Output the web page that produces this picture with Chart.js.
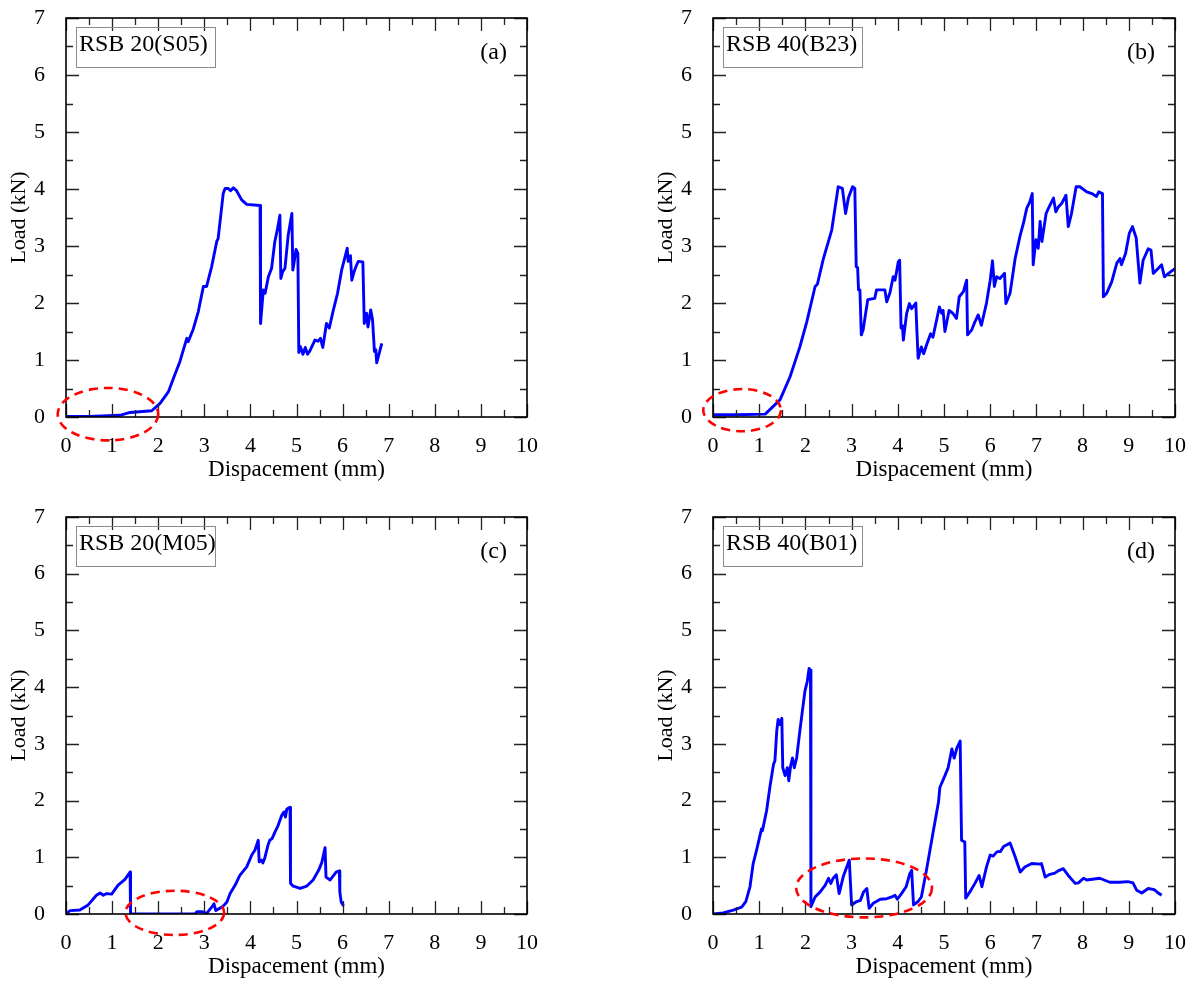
<!DOCTYPE html>
<html>
<head>
<meta charset="utf-8">
<script src="https://cdn.jsdelivr.net/npm/chart.js@4.4.1/dist/chart.umd.min.js"></script>
<style>
  body { margin: 0; background: #fff; width: 1195px; height: 987px; overflow: hidden; position: relative; }
  canvas { position: absolute; }
</style>
</head>
<body>
<canvas id="chartA" width="547" height="490" style="left:0;top:0"></canvas>
<canvas id="chartB" width="548" height="490" style="left:647px;top:0"></canvas>
<canvas id="chartC" width="547" height="490" style="left:0;top:497px"></canvas>
<canvas id="chartD" width="548" height="490" style="left:647px;top:497px"></canvas>
<script>
// tick labels
const xTicks = ["0", "1", "2", "3", "4", "5", "6", "7", "8", "9", "10"];
const yTicks = ["0", "1", "2", "3", "4", "5", "6", "7"];

// (a) RSB 20(S05)
const dispA = [0, 0.5, 1.17, 1.39, 1.86, 2.04, 2.22, 2.36, 2.47, 2.62, 2.65, 2.76, 2.87, 2.98, 3.05, 3.16, 3.27, 3.30, 3.41, 3.45,
  3.52, 3.57, 3.63, 3.70, 3.81, 3.92, 4.21, 4.22, 4.28, 4.32, 4.39, 4.46, 4.53, 4.59, 4.64, 4.66, 4.70, 4.75, 4.82, 4.90,
  4.92, 4.94, 4.99, 5.03, 5.05, 5.08, 5.14, 5.19, 5.24, 5.29, 5.40, 5.47, 5.52, 5.57, 5.65, 5.71, 5.80, 5.89, 5.98, 6.05,
  6.10, 6.12, 6.17, 6.20, 6.25, 6.29, 6.34, 6.44, 6.47, 6.52, 6.55, 6.61, 6.65, 6.69, 6.72, 6.74, 6.85];
const loadA = [0.01, 0.01, 0.03, 0.08, 0.11, 0.24, 0.44, 0.74, 0.97, 1.38, 1.32, 1.54, 1.85, 2.29, 2.29, 2.64, 3.08, 3.13, 3.92, 4.01,
  4.01, 3.97, 4.02, 3.97, 3.81, 3.73, 3.71, 1.64, 2.23, 2.17, 2.46, 2.61, 3.08, 3.31, 3.54, 2.43, 2.55, 2.61, 3.19, 3.57,
  2.58, 2.67, 2.94, 2.87, 1.13, 1.24, 1.10, 1.22, 1.10, 1.16, 1.35, 1.33, 1.38, 1.22, 1.64, 1.56, 1.88, 2.17, 2.58, 2.80,
  2.96, 2.73, 2.83, 2.40, 2.55, 2.64, 2.73, 2.72, 1.64, 1.82, 1.58, 1.88, 1.70, 1.15, 1.18, 0.95, 1.29];

// (b) RSB 40(B23)
const dispB = [0, 0.5, 1.13, 1.45, 1.67, 1.88, 2.03, 2.21, 2.26, 2.39, 2.57, 2.71, 2.80, 2.87, 2.93, 3.02, 3.07, 3.10, 3.13, 3.15,
  3.18, 3.21, 3.25, 3.35, 3.50, 3.54, 3.72, 3.76, 3.83, 3.90, 3.94, 4.01, 4.04, 4.07, 4.10, 4.12, 4.19, 4.25, 4.30, 4.39,
  4.41, 4.44, 4.51, 4.56, 4.62, 4.71, 4.76, 4.90, 4.95, 4.98, 5.02, 5.11, 5.19, 5.27, 5.33, 5.42, 5.49, 5.51, 5.60, 5.67,
  5.74, 5.81, 5.92, 6.00, 6.05, 6.09, 6.14, 6.21, 6.31, 6.34, 6.43, 6.54, 6.65, 6.72, 6.79, 6.86, 6.91, 6.93, 6.99, 7.04,
  7.08, 7.12, 7.21, 7.26, 7.37, 7.42, 7.48, 7.55, 7.64, 7.69, 7.76, 7.86, 7.94, 8.09, 8.20, 8.30, 8.35, 8.43, 8.45, 8.52,
  8.63, 8.74, 8.81, 8.84, 8.93, 9.01, 9.08, 9.16, 9.24, 9.31, 9.42, 9.48, 9.53, 9.64, 9.71, 9.77, 9.86, 9.96, 10.0];
const loadB = [0.04, 0.04, 0.05, 0.30, 0.71, 1.23, 1.67, 2.29, 2.33, 2.78, 3.28, 4.04, 4.01, 3.57, 3.84, 4.04, 4.01, 2.64, 2.62, 2.23,
  2.23, 1.44, 1.53, 2.06, 2.08, 2.23, 2.23, 2.02, 2.18, 2.46, 2.40, 2.72, 2.75, 1.56, 1.60, 1.35, 1.81, 1.99, 1.90, 2.00,
  1.58, 1.03, 1.23, 1.11, 1.26, 1.46, 1.40, 1.93, 1.82, 1.87, 1.50, 1.87, 1.82, 1.73, 2.11, 2.20, 2.40, 1.44, 1.53, 1.67,
  1.79, 1.61, 2.00, 2.40, 2.74, 2.29, 2.46, 2.43, 2.52, 1.99, 2.17, 2.78, 3.19, 3.40, 3.66, 3.78, 3.92, 2.67, 3.11, 2.96,
  3.43, 3.08, 3.57, 3.66, 3.84, 3.60, 3.69, 3.75, 3.89, 3.34, 3.57, 4.04, 4.04, 3.95, 3.92, 3.87, 3.95, 3.92, 2.11, 2.17,
  2.37, 2.70, 2.78, 2.67, 2.87, 3.22, 3.34, 3.14, 2.35, 2.75, 2.95, 2.93, 2.52, 2.61, 2.67, 2.46, 2.52, 2.58, 2.60];

// (c) RSB 20(M05)
const dispC = [0, 0.09, 0.30, 0.48, 0.66, 0.74, 0.81, 0.88, 0.99, 1.13, 1.28, 1.39, 1.40, 2.80, 2.84, 2.95, 3.05, 3.16, 3.21, 3.25,
  3.40, 3.49, 3.56, 3.67, 3.77, 3.92, 4.03, 4.10, 4.17, 4.19, 4.24, 4.27, 4.31, 4.38, 4.42, 4.47, 4.53, 4.60, 4.68, 4.73,
  4.76, 4.79, 4.86, 4.87, 4.93, 5.08, 5.22, 5.36, 5.48, 5.55, 5.62, 5.64, 5.73, 5.86, 5.93, 5.94, 5.97, 6.02];
const loadC = [0.01, 0.06, 0.07, 0.16, 0.33, 0.37, 0.33, 0.36, 0.35, 0.51, 0.61, 0.74, 0.0, 0.0, 0.04, 0.04, 0.01, 0.12, 0.18, 0.06,
  0.13, 0.21, 0.36, 0.51, 0.68, 0.83, 1.04, 1.13, 1.30, 0.92, 0.95, 0.90, 0.98, 1.21, 1.30, 1.33, 1.44, 1.56, 1.74, 1.80,
  1.71, 1.85, 1.88, 0.54, 0.49, 0.45, 0.49, 0.60, 0.77, 0.91, 1.17, 0.65, 0.60, 0.74, 0.76, 0.39, 0.21, 0.14];

// (d) RSB 40(B01)
const dispD = [0, 0.22, 0.44, 0.62, 0.71, 0.80, 0.87, 0.95, 1.05, 1.07, 1.16, 1.23, 1.31, 1.34, 1.38, 1.41, 1.45, 1.49, 1.51, 1.56,
  1.61, 1.64, 1.68, 1.72, 1.76, 1.81, 1.88, 1.99, 2.04, 2.08, 2.11, 2.12, 2.21, 2.32, 2.43, 2.50, 2.55, 2.60, 2.67, 2.73,
  2.82, 2.95, 3.00, 3.11, 3.19, 3.26, 3.33, 3.35, 3.38, 3.47, 3.62, 3.76, 3.87, 3.94, 3.99, 4.08, 4.18, 4.26, 4.30, 4.34,
  4.44, 4.51, 4.62, 4.77, 4.88, 4.91, 5.02, 5.09, 5.17, 5.22, 5.28, 5.35, 5.38, 5.45, 5.47, 5.56, 5.67, 5.76, 5.82, 5.92,
  6.00, 6.06, 6.15, 6.22, 6.29, 6.43, 6.54, 6.65, 6.75, 6.90, 7.08, 7.11, 7.19, 7.29, 7.40, 7.47, 7.58, 7.69, 7.84, 7.91,
  8.02, 8.09, 8.37, 8.59, 8.80, 8.98, 9.09, 9.17, 9.28, 9.42, 9.55, 9.64, 9.71];
const loadD = [0.00, 0.02, 0.07, 0.12, 0.22, 0.48, 0.89, 1.15, 1.50, 1.47, 1.82, 2.23, 2.64, 2.70, 3.23, 3.43, 3.34, 3.45, 2.58, 2.44,
  2.58, 2.35, 2.61, 2.75, 2.58, 2.75, 3.23, 3.93, 4.10, 4.33, 4.30, 0.13, 0.30, 0.39, 0.51, 0.63, 0.54, 0.63, 0.69, 0.36,
  0.66, 0.95, 0.16, 0.22, 0.24, 0.39, 0.45, 0.30, 0.10, 0.19, 0.26, 0.27, 0.30, 0.33, 0.26, 0.36, 0.48, 0.71, 0.77, 0.16,
  0.22, 0.30, 0.77, 1.47, 1.97, 2.23, 2.44, 2.58, 2.91, 2.75, 2.93, 3.05, 1.30, 1.27, 0.28, 0.39, 0.54, 0.68, 0.48, 0.83,
  1.04, 1.02, 1.10, 1.10, 1.19, 1.25, 1.01, 0.74, 0.83, 0.89, 0.88, 0.89, 0.65, 0.70, 0.72, 0.76, 0.80, 0.68, 0.54, 0.55,
  0.63, 0.60, 0.63, 0.56, 0.56, 0.57, 0.55, 0.42, 0.37, 0.45, 0.43, 0.37, 0.33];

const serif = "'Liberation Serif', 'Times New Roman', Times, serif";

// frame, inward ticks on all four sides, ellipse and labels
const framePlugin = {
  id: "frame",
  afterDraw(chart, args, o) {
    const { ctx, chartArea: a, scales: { x, y } } = chart;
    ctx.save();
    ctx.setLineDash([]);
    ctx.strokeStyle = "#222";
    ctx.lineWidth = 1.3;
    ctx.beginPath();
    for (let i = 0; i <= 20; i++) {
      const v = i / 2;
      const px = Math.round(x.getPixelForValue(v)) + 0.5;
      const len = i % 2 === 0 ? 13 : 7;
      ctx.moveTo(px, a.bottom);
      ctx.lineTo(px, a.bottom - len);
      ctx.moveTo(px, a.top);
      ctx.lineTo(px, a.top + len);
    }
    for (let i = 0; i <= 14; i++) {
      const v = i / 2;
      const py = Math.round(y.getPixelForValue(v)) + 0.5;
      const len = i % 2 === 0 ? 13 : 7;
      ctx.moveTo(a.left, py);
      ctx.lineTo(a.left + len, py);
      ctx.moveTo(a.right, py);
      ctx.lineTo(a.right - len, py);
    }
    ctx.stroke();
    ctx.strokeStyle = "#000";
    ctx.lineWidth = 1.6;
    ctx.strokeRect(a.left, a.top, a.right - a.left, a.bottom - a.top);

    // red dashed ellipse
    const e = o.ellipse;
    const cx = x.getPixelForValue(e.x), cy = y.getPixelForValue(e.y);
    const rx = x.getPixelForValue(e.x + e.rx) - cx;
    const ry = cy - y.getPixelForValue(e.y + e.ry);
    ctx.setLineDash([9, 6]);
    ctx.strokeStyle = "#ff0000";
    ctx.lineWidth = 2.6;
    ctx.beginPath();
    ctx.ellipse(cx, cy, rx, ry, 0, 0, Math.PI * 2);
    ctx.stroke();
    ctx.setLineDash([]);

    // specimen box
    ctx.strokeStyle = "#8c8c8c";
    ctx.lineWidth = 1;
    ctx.strokeRect(a.left + 10.5, a.top + 9.5, 139, 40);
    ctx.fillStyle = "#000";
    ctx.font = "24px " + serif;
    ctx.textBaseline = "middle";
    ctx.textAlign = "left";
    ctx.fillText(o.name, a.left + 13, a.top + 27);
    ctx.textAlign = "right";
    ctx.fillText(o.letter, a.right - 20, a.top + 35);
    ctx.restore();
  }
};

function makePanel(id, xs, ys, name, letter, ellipse, padTop) {
  const points = xs.map((v, i) => ({ x: v, y: ys[i] }));
  new Chart(document.getElementById(id), {
    type: "line",
    data: {
      datasets: [{
        data: points,
        borderColor: "#0000ff",
        borderWidth: 2.9,
        borderJoinStyle: "round",
        pointRadius: 0,
        tension: 0,
        fill: false
      }]
    },
    options: {
      responsive: false,
      animation: false,
      events: [],
      layout: { padding: { top: padTop, right: 20, left: 0, bottom: 0 } },
      plugins: {
        legend: { display: false },
        tooltip: { enabled: false },
        frame: { name: name, letter: letter, ellipse: ellipse }
      },
      scales: {
        x: {
          type: "linear",
          min: 0,
          max: 10,
          afterFit: (s) => { s.height = 73; s.paddingLeft = 0; s.paddingRight = 0; },
          grid: { display: false },
          border: { display: false },
          ticks: {
            stepSize: 1,
            autoSkip: false,
            maxRotation: 0,
            padding: 8,
            color: "#000",
            font: { family: serif, size: 22 },
            callback: (v) => xTicks[v]
          },
          title: {
            display: true,
            text: "Dispacement (mm)",
            color: "#000",
            font: { family: serif, size: 23 },
            padding: { top: 0, bottom: 6 }
          }
        },
        y: {
          type: "linear",
          min: 0,
          max: 7,
          afterFit: (s) => { s.width = 66; s.paddingTop = 0; s.paddingBottom = 0; },
          grid: { display: false },
          border: { display: false },
          ticks: {
            stepSize: 1,
            padding: 13,
            color: "#000",
            font: { family: serif, size: 22 },
            callback: (v) => yTicks[v]
          },
          title: {
            display: true,
            text: "Load (kN)",
            color: "#000",
            font: { family: serif, size: 22 },
            padding: { top: 6, bottom: 0 }
          }
        }
      }
    },
    plugins: [framePlugin]
  });
}

makePanel("chartA", dispA, loadA, "RSB 20(S05)", "(a)", { x: 0.91, y: 0.05, rx: 1.09, ry: 0.46 }, 18);
makePanel("chartB", dispB, loadB, "RSB 40(B23)", "(b)", { x: 0.63, y: 0.12, rx: 0.84, ry: 0.37 }, 18);
makePanel("chartC", dispC, loadC, "RSB 20(M05)", "(c)", { x: 2.36, y: 0.02, rx: 1.07, ry: 0.39 }, 20);
makePanel("chartD", dispD, loadD, "RSB 40(B01)", "(d)", { x: 3.27, y: 0.46, rx: 1.47, ry: 0.52 }, 20);
</script>
</body>
</html>
